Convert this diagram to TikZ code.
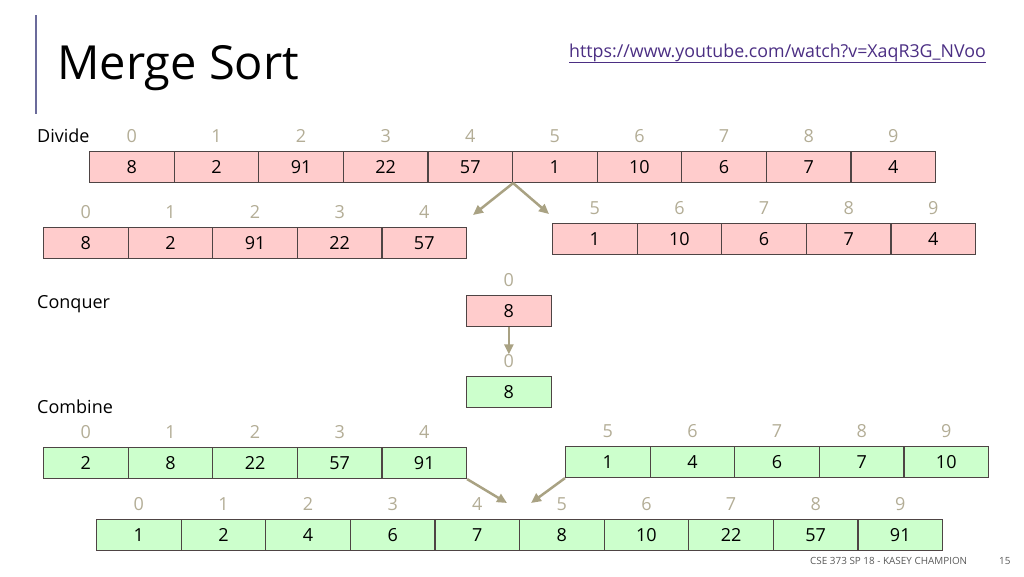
\documentclass[tikz,border=0pt]{standalone}
\usepackage{fontspec}
\setmainfont{Open Sans}
\usetikzlibrary{arrows.meta,positioning}
\definecolor{pinkcell}{HTML}{FFCCCC}
\definecolor{greencell}{HTML}{CCFFCC}
\definecolor{cellline}{HTML}{4E4444}
\definecolor{idxgrey}{HTML}{B3AD96}
\definecolor{arrowtan}{HTML}{A9A283}
\definecolor{barpurple}{HTML}{6B6B9B}
\definecolor{urlpurple}{HTML}{4B2E83}
\definecolor{footgrey}{HTML}{595959}

\begin{document}
\begin{tikzpicture}[
  x=1pt, y=-1pt, font=\fontsize{18}{21}\selectfont,
  >={Triangle[length=10pt,width=9pt]},
  cell/.style={draw=cellline, line width=1.1pt, minimum width=84.6pt,
               minimum height=31pt, inner sep=0pt, anchor=north west},
  pinkc/.style={cell, fill=pinkcell},
  greenc/.style={cell, fill=greencell},
  idx/.style={text=idxgrey, inner sep=0pt},
  lbl/.style={anchor=base west, inner sep=0pt},
  flow/.style={->, draw=arrowtan, fill=arrowtan, line width=2.5pt},
]
\useasboundingbox (0,0) rectangle (1024,576);

\draw[barpurple, line width=2pt] (36,15) -- (36,114);
\node[lbl, font=\fontsize{47}{54}\selectfont] (title) at (57,79) {Merge Sort};
\node[lbl, text=urlpurple, font=\fontsize{17.8}{20}\selectfont] (url) at (569,57)
  {\underline{https://www.youtube.com/watch?v=XaqR3G\_NVoo}};

\node[lbl] (divide) at (37,142) {Divide};
\node[lbl] (conquer) at (37,308) {Conquer};
\node[lbl] (combine) at (37,413) {Combine};

\foreach \v [count=\i from 0] in {8,2,91,22,57,1,10,6,7,4} {
  \node[pinkc] (top-\i) at ({89+84.6*\i},151) {\v};
  \node[idx, above=8pt of top-\i] (ti-\i) {\i};
}
\foreach \v [count=\i from 0] in {8,2,91,22,57} {
  \node[pinkc] (dl-\i) at ({43+84.6*\i},227) {\v};
  \node[idx, above=8pt of dl-\i] (dli-\i) {\i};
}
\foreach \v [count=\i from 5] in {1,10,6,7,4} {
  \node[pinkc] (dr-\i) at ({552+84.6*(\i-5)},223) {\v};
  \node[idx, above=8pt of dr-\i] (dri-\i) {\i};
}

\node[pinkc] (cq) at (466,295) {8};
\node[idx, above=8pt of cq] (cqi) {0};
\node[greenc] (gs) at (466,376) {8};
\node[idx, above=8pt of gs] (gsi) {0};

\foreach \v [count=\i from 0] in {2,8,22,57,91} {
  \node[greenc] (cl-\i) at ({43+84.6*\i},447) {\v};
  \node[idx, above=8pt of cl-\i] (cli-\i) {\i};
}
\foreach \v [count=\i from 5] in {1,4,6,7,10} {
  \node[greenc] (cr-\i) at ({565+84.6*(\i-5)},446) {\v};
  \node[idx, above=8pt of cr-\i] (cri-\i) {\i};
}
\foreach \v [count=\i from 0] in {1,2,4,6,7,8,10,22,57,91} {
  \node[greenc] (bt-\i) at ({96+84.6*\i},519) {\v};
  \node[idx, above=8pt of bt-\i] (bti-\i) {\i};
}

\coordinate (splitl) at (473,215);
\coordinate (splitr) at (549,214);
\coordinate (joinl) at (507,503);
\coordinate (joinr) at (531,503);
\draw[flow] (top-4.south east) -- (splitl);
\draw[flow] (top-4.south east) -- (splitr);
\draw[flow] (cq.south) -- (gsi.north);
\draw[flow] (cl-4.south east) -- (joinl);
\draw[flow] (cr-5.south west) -- (joinr);

\node[lbl, text=footgrey, font=\fontsize{9.9}{12}\selectfont] (foot) at (810,564)
  {CSE 373 SP 18 - KASEY CHAMPION};
\node[lbl, text=footgrey, font=\fontsize{9.9}{12}\selectfont] (page) at (999,564) {15};
\end{tikzpicture}
\end{document}
